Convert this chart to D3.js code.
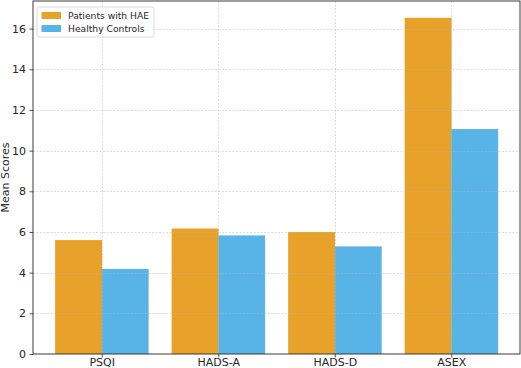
<!DOCTYPE html>
<html><head><meta charset="utf-8">
<script src="https://cdn.jsdelivr.net/npm/d3@7"></script>
<style>body{margin:0;background:#fff}svg{display:block;font-family:"DejaVu Sans",sans-serif}</style>
</head><body>
<script>
const categories = ["PSQI", "HADS-A", "HADS-D", "ASEX"];
const seriesNames = ["Patients with HAE", "Healthy Controls"];
const haeValues = [5.6, 6.17, 6.0, 16.53];
const controlValues = [4.18, 5.83, 5.29, 11.06];
const yTicks = [0, 2, 4, 6, 8, 10, 12, 14, 16];
const colors = ["#E8A229", "#58B3E6"];

const W = 521, H = 368;
const m = {left: 33, right: 1, top: 1, bottom: 14};
const svg = d3.select("body").append("svg").attr("width", W).attr("height", H);
const iw = W - m.left - m.right, ih = H - m.top - m.bottom;
const g = svg.append("g").attr("transform", `translate(${m.left},${m.top})`);

const maxV = d3.max([...haeValues, ...controlValues]);
const y = d3.scaleLinear().domain([0, maxV * 1.05]).range([ih, 0]);
const x = d3.scaleLinear().domain([-0.59, categories.length - 1 + 0.59]).range([0, iw]);
const bw = 0.4;

const series = [haeValues, controlValues];
series.forEach((vals, s) => {
  g.selectAll(null).data(vals).enter().append("rect")
    .attr("x", (d, i) => x(i - bw + s * bw))
    .attr("width", (d, i) => x(i + bw * (s - 1) + bw) - x(i - bw + s * bw) + 0.3)
    .attr("y", d => y(d))
    .attr("height", d => y(0) - y(d))
    .attr("fill", colors[s]);
});

// grid (above bars)
const grid = g.append("g").attr("stroke", "#b8b8b8").attr("stroke-opacity", 0.6)
  .attr("stroke-width", 0.8).attr("stroke-dasharray", "2,1.5");
grid.selectAll(null).data(yTicks.slice(1)).enter().append("line")
  .attr("x1", 0).attr("x2", iw).attr("y1", d => Math.round(y(d)) + 0.5).attr("y2", d => Math.round(y(d)) + 0.5);
grid.selectAll(null).data(categories).enter().append("line")
  .attr("y1", 0).attr("y2", ih).attr("x1", (d, i) => Math.round(x(i)) + 0.5).attr("x2", (d, i) => Math.round(x(i)) + 0.5);

// axes
const yAxis = g.append("g").call(d3.axisLeft(y).tickValues(yTicks).tickSize(3.5).tickPadding(3.5));
const xAxis = g.append("g").attr("transform", `translate(0,${ih})`)
  .call(d3.axisBottom(x).tickValues(d3.range(categories.length)).tickFormat(i => categories[i]).tickSize(3.5).tickPadding(1));
[yAxis, xAxis].forEach(a => {
  a.selectAll("text").attr("font-size", 11).attr("fill", "#262626").attr("font-family", "DejaVu Sans");
  a.selectAll("line").attr("stroke", "#262626").attr("stroke-width", 0.8);
  a.select(".domain").remove();
});
// spines
g.append("rect").attr("x", 0).attr("y", 0).attr("width", iw).attr("height", ih)
  .attr("fill", "none").attr("stroke", "#262626").attr("stroke-width", 0.9);

// y label
svg.append("text").attr("transform", `translate(9,${m.top + ih / 2}) rotate(-90)`)
  .attr("text-anchor", "middle").attr("font-size", 11).attr("fill", "#262626").text("Mean Scores");

// legend
const lg = g.append("g").attr("transform", "translate(4,6)");
lg.append("rect").attr("width", 117).attr("height", 30).attr("rx", 2)
  .attr("fill", "#fff").attr("fill-opacity", 0.8).attr("stroke", "#d0d0d0").attr("stroke-width", 0.8);
seriesNames.forEach((n, i) => {
  lg.append("rect").attr("x", 4.5).attr("y", 5 + i * 13).attr("width", 19.5).attr("height", 7).attr("fill", colors[i]);
  lg.append("text").attr("x", 31).attr("y", 11.5 + i * 13).attr("font-size", 9.2).attr("fill", "#262626").text(n);
});
</script>
</body></html>
